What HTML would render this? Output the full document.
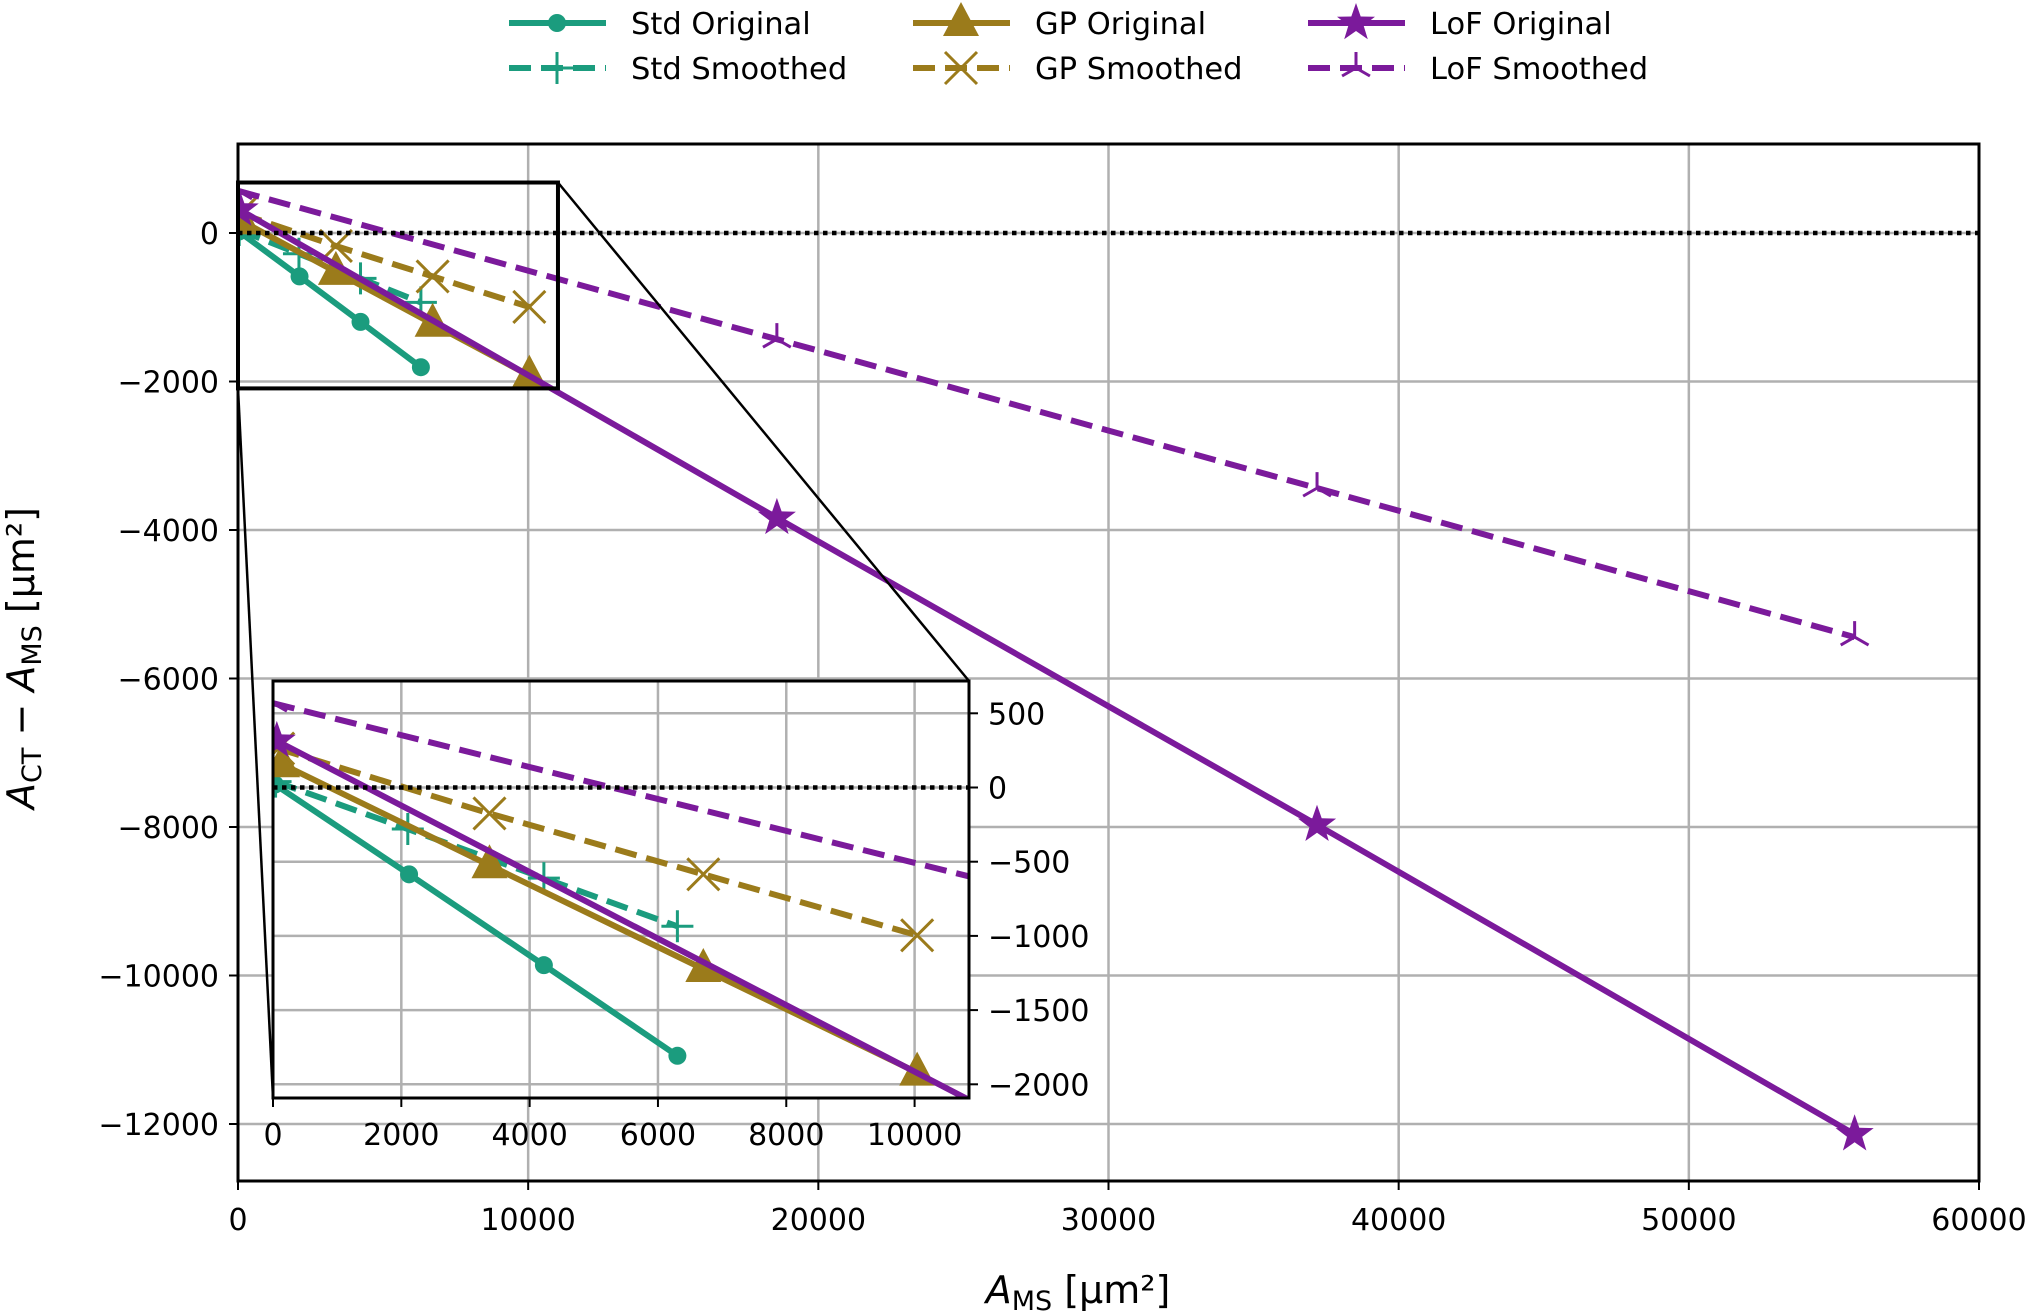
<!DOCTYPE html>
<html><head><meta charset="utf-8"><style>
html,body{margin:0;padding:0;background:#fff;overflow:hidden;width:2031px;height:1316px;}
svg{display:block;font-family:"DejaVu Sans","Liberation Sans",sans-serif;}
</style></head><body>
<svg id="chart" width="2031" height="1316" viewBox="0 0 2031 1316" xmlns="http://www.w3.org/2000/svg">
<defs>
<clipPath id="mainClip"><rect x="238" y="144" width="1741" height="1037"/></clipPath>
<clipPath id="insetClip"><rect x="273" y="681" width="696" height="417"/></clipPath>
</defs>
<g id="root"></g>
</svg>
<script>
const seriesNames = ["Std Original","Std Smoothed","GP Original","GP Smoothed","LoF Original","LoF Smoothed"];
const stdOrigX = [30, 2121, 4222, 6303];
const stdOrigY = [20, -585, -1197, -1808];
const stdSmoX = [40, 2101, 4222, 6303];
const stdSmoY = [40, -280, -611, -935];
const gpOrigX = [141, 3374, 6707, 10040];
const gpOrigY = [157, -524, -1223, -1921];
const gpSmoX = [80, 3374, 6707, 10040];
const gpSmoY = [262, -175, -585, -996];
const lofOrigX = [60, 18571, 37187, 55714];
const lofOrigY = [314, -3837, -7970, -12139];
const lofSmoX = [0, 18571, 37187, 55714];
const lofSmoY = [568, -1430, -3436, -5442];
const mainXTicks = [0,10000,20000,30000,40000,50000,60000];
const mainYTicks = [0,-2000,-4000,-6000,-8000,-10000,-12000];
const insetXTicks = [0,2000,4000,6000,8000,10000];
const insetYTicks = [500,0,-500,-1000,-1500,-2000];

const NS = "http://www.w3.org/2000/svg";
const root = document.getElementById("root");
function el(tag, attrs, parent){ const e=document.createElementNS(NS,tag); for(const k in attrs) e.setAttribute(k,attrs[k]); (parent||root).appendChild(e); return e; }
const X = v => 238 + v/60000*1741;
const Y = v => 233 - v/2000*148.5;
const IX = v => 273 + v/10848*696;
const IY = v => 787.5 - v/500*74.2;
const C = {std:"#1b9c7e", gp:"#9b7b1b", lof:"#7b1a9b"};
const fmt = v => v<0 ? "\u2212"+Math.abs(v) : String(v);

function marker(g, type, x, y, color){
  const s=16;
  if(type==="o") el("circle",{cx:x,cy:y,r:9,fill:color},g);
  else if(type==="^") el("path",{d:`M${x},${y-21}L${x+18},${y+13}L${x-18},${y+13}Z`,fill:color},g);
  else if(type==="*"){ let d=""; for(let i=0;i<10;i++){const r=i%2?8:20; const a=-Math.PI/2+i*Math.PI/5; d+=(i?"L":"M")+(x+r*Math.cos(a)).toFixed(1)+","+(y+r*Math.sin(a)).toFixed(1);} el("path",{d:d+"Z",fill:color},g); }
  else if(type==="+") el("path",{d:`M${x-s},${y}H${x+s}M${x},${y-s}V${y+s}`,stroke:color,"stroke-width":3,fill:"none"},g);
  else if(type==="x") el("path",{d:`M${x-s},${y-s}L${x+s},${y+s}M${x-s},${y+s}L${x+s},${y-s}`,stroke:color,"stroke-width":3,fill:"none"},g);
  else if(type==="2") el("path",{d:`M${x},${y}V${y-s}M${x},${y}L${x-s*0.87},${y+s*0.5}M${x},${y}L${x+s*0.87},${y+s*0.5}`,stroke:color,"stroke-width":3,fill:"none"},g);
}
const series = [
  {xs:stdOrigX, ys:stdOrigY, c:C.std, m:"o", dash:false, name:"std-original"},
  {xs:stdSmoX, ys:stdSmoY, c:C.std, m:"+", dash:true, name:"std-smoothed"},
  {xs:gpOrigX, ys:gpOrigY, c:C.gp, m:"^", dash:false, name:"gp-original"},
  {xs:gpSmoX, ys:gpSmoY, c:C.gp, m:"x", dash:true, name:"gp-smoothed"},
  {xs:lofOrigX, ys:lofOrigY, c:C.lof, m:"*", dash:false, name:"lof-original"},
  {xs:lofSmoX, ys:lofSmoY, c:C.lof, m:"2", dash:true, name:"lof-smoothed"}
];
function drawSeries(parent, fx, fy, prefix){
  series.forEach(s=>{
    const g=el("g",{},parent);
    
    
    const pts=s.xs.map((v,i)=>fx(v).toFixed(1)+","+fy(s.ys[i]).toFixed(1)).join(" ");
    const a={points:pts,fill:"none",stroke:s.c,"stroke-width":6,"stroke-linejoin":"round"};
    if(s.dash) a["stroke-dasharray"]="22,10";
    el("polyline",a,g);
    s.xs.forEach((v,i)=>marker(g,s.m,fx(v),fy(s.ys[i]),s.c));
  });
}

const mg=el("g",{});


mainXTicks.forEach(t=>el("line",{x1:X(t),x2:X(t),y1:144,y2:1181,stroke:"#b0b0b0","stroke-width":2.5},mg));
mainYTicks.forEach(t=>el("line",{x1:238,x2:1979,y1:Y(t),y2:Y(t),stroke:"#b0b0b0","stroke-width":2.5},mg));
const ms=el("g",{"clip-path":"url(#mainClip)"});


drawSeries(ms,X,Y,"main");
const zl=el("line",{x1:238,x2:1979,y1:Y(0),y2:Y(0),stroke:"#000","stroke-width":4.5,"stroke-dasharray":"4.5,4.5"});


const fr=el("rect",{x:238,y:144,width:1741,height:1037,fill:"none",stroke:"#000","stroke-width":3});


mainXTicks.forEach(t=>{
  el("line",{x1:X(t),x2:X(t),y1:1181,y2:1190,stroke:"#000","stroke-width":2});
  const tx=el("text",{x:X(t),y:1230,"font-size":30,"text-anchor":"middle"}); tx.textContent=fmt(t);
  
  
});
mainYTicks.forEach(t=>{
  el("line",{x1:229,x2:238,y1:Y(t),y2:Y(t),stroke:"#000","stroke-width":2});
  const tx=el("text",{x:219,y:Y(t)+11,"font-size":30,"text-anchor":"end"}); tx.textContent=fmt(t);
  
  
});
const zr=el("rect",{x:X(0),y:Y(680),width:X(11027)-X(0),height:Y(-2093)-Y(680),fill:"none",stroke:"#000","stroke-width":4});


const c1=el("line",{x1:X(11027),y1:Y(680),x2:969,y2:681,stroke:"#000","stroke-width":2.5});


const c2=el("line",{x1:X(0),y1:Y(-2093),x2:273,y2:1098,stroke:"#000","stroke-width":2.5});



const ig=el("g",{});


el("rect",{x:273,y:681,width:696,height:417,fill:"#fff"},ig);
insetXTicks.forEach(t=>el("line",{x1:IX(t),x2:IX(t),y1:681,y2:1098,stroke:"#b0b0b0","stroke-width":2.5},ig));
insetYTicks.forEach(t=>el("line",{x1:273,x2:969,y1:IY(t),y2:IY(t),stroke:"#b0b0b0","stroke-width":2.5},ig));
const ic=el("g",{"clip-path":"url(#insetClip)"},ig);
drawSeries(ic,IX,IY,"inset");
el("line",{x1:273,x2:969,y1:IY(0),y2:IY(0),stroke:"#000","stroke-width":4.5,"stroke-dasharray":"4.5,4.5"},ic);
el("rect",{x:273,y:681,width:696,height:417,fill:"none",stroke:"#000","stroke-width":3},ig);
insetXTicks.forEach(t=>{
  el("line",{x1:IX(t),x2:IX(t),y1:1098,y2:1107,stroke:"#000","stroke-width":2},ig);
  const tx=el("text",{x:IX(t),y:1145,"font-size":30,"text-anchor":"middle"},ig); tx.textContent=fmt(t);
  
  
});
insetYTicks.forEach(t=>{
  el("line",{x1:969,x2:978,y1:IY(t),y2:IY(t),stroke:"#000","stroke-width":2},ig);
  const tx=el("text",{x:988,y:IY(t)+11,"font-size":30,"text-anchor":"start"},ig); tx.textContent=fmt(t);
  
  
});

const xl=el("text",{x:1078,y:1303,"font-size":38,"text-anchor":"middle"});
xl.innerHTML='<tspan font-style="italic">A</tspan><tspan font-size="27" dy="7">MS</tspan><tspan dy="-7"> [μm²]</tspan>';


const yl=el("text",{x:0,y:0,"font-size":38,"text-anchor":"middle",transform:"translate(34,658) rotate(-90)"});
yl.innerHTML='<tspan font-style="italic">A</tspan><tspan font-size="27" dy="7">CT</tspan><tspan dy="-7"> − </tspan><tspan font-style="italic">A</tspan><tspan font-size="27" dy="7">MS</tspan><tspan dy="-7"> [μm²]</tspan>';



const lg=el("g",{});


const legPos=[[509,23],[509,68],[913,23],[913,68],[1308,23],[1308,68]];
series.forEach((s,i)=>{
  const [lx,ly]=legPos[i];
  const g=el("g",{},lg);
  
  
  const a={x1:lx,x2:lx+97,y1:ly,y2:ly,stroke:s.c,"stroke-width":6};
  if(s.dash) a["stroke-dasharray"]="22,10";
  el("line",a,g);
  marker(g,s.m,lx+48,ly,s.c);
  const t=el("text",{x:lx+122,y:ly+11,"font-size":30.5},g); t.textContent=seriesNames[i];
});
</script>
</body></html>
